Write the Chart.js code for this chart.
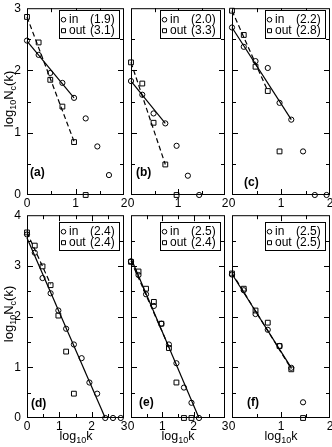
<!DOCTYPE html>
<html>
<head>
<meta charset="utf-8">
<script src="https://cdn.jsdelivr.net/npm/chart.js@4.4.1/dist/chart.umd.min.js"></script>
<style>
  body { margin: 0; background: #fff; width: 332px; height: 447px; position: relative; overflow: hidden;
         font-family: "Liberation Sans", Arial, sans-serif; color: #000; }
  canvas { position: absolute; }
  .ttl { position: absolute; white-space: nowrap; font-size: 13px; line-height: 13px; }
  .ytitle { transform: translate(-50%, -50%) rotate(-90deg); }
  .xtitle { transform: translateX(-50%); font-size: 12.5px; }
  sub { font-size: 9px; vertical-align: -3px; line-height: 0; }
</style>
</head>
<body>
<canvas id="pa"></canvas><canvas id="pb"></canvas><canvas id="pc"></canvas>
<canvas id="pd"></canvas><canvas id="pe"></canvas><canvas id="pf"></canvas>
<div class="ttl ytitle" style="left:8px;top:99px">log<sub>10</sub>N<sub>c</sub>(k)</div>
<div class="ttl ytitle" style="left:8px;top:314px">log<sub>10</sub>N<sub>c</sub>(k)</div>
<div class="ttl xtitle" style="left:76px;top:430px">log<sub>10</sub>k</div>
<div class="ttl xtitle" style="left:178px;top:430px">log<sub>10</sub>k</div>
<div class="ttl xtitle" style="left:281px;top:430px">log<sub>10</sub>k</div>
<script>
// log10 k bins (x positions shared by all panels)
var logK = [0, 0.24, 0.48, 0.73, 0.97, 1.21, 1.45, 1.69, 1.93, 2.17, 2.42, 2.66, 2.9];

// log10 Nc(k) : in-degree (circles) and out-degree (squares)
var inA  = [2.48, 2.25, 1.96, 1.80, 1.56, 1.23, 0.78, 0.32];
var outA = [2.86, 2.45, 1.85, 1.42, 0.85, 0];
var inB  = [1.83, 1.61, 1.31, 1.15, 0.79, 0.31, 0];
var outB = [2.13, 1.79, 1.16, 0.49, 0];
var inC  = [2.69, 2.38, 2.15, 2.04, 1.48, 1.21, 0.70, 0, 0];
var outC = [2.96, 2.57, 2.06, 1.67, 0.70];
var inD  = [3.62, 3.26, 2.76, 2.46, 2.12, 1.76, 1.45, 1.18, 0.70, 0.48, 0, 0, 0];
var outD = [3.66, 3.40, 2.99, 2.62, 2.02, 1.31, 0.48];
var inE  = [3.09, 2.82, 2.44, 2.21, 1.86, 1.45, 1.08, 0.60, 0.30, 0];
var outE = [3.08, 2.89, 2.55, 2.29, 1.86, 1.38, 0.70, 0, 0];
var inF  = [2.83, 2.52, 2.05, 1.74, 1.42, 0.99, 0.31];
var outF = [2.85, 2.55, 2.12, 1.88, 1.42, 0.96, 0];

// power-law fits: [[x0, y0], [x1, y1]]
var fitInA = [[0, 2.47], [0.97, 1.56]], fitOutA = [[0, 2.86], [0.97, 0.86]];
var fitInB = [[0, 1.83], [0.73, 1.15]], fitOutB = [[0, 2.13], [0.73, 0.49]];
var fitInC = [[0, 2.69], [1.21, 1.21]], fitOutC = [[0, 2.96], [0.73, 1.67]];
var fitInD = [[0, 3.55], [2.42, 0]],    fitOutD = [[0, 3.66], [0.73, 2.64]];
var fitInE = [[0, 3.15], [2.17, 0]],    fitOutE = [[0, 3.10], [1.21, 1.40]];
var fitInF = [[0, 2.84], [1.21, 0.99]], fitOutF = [[0, 2.86], [1.21, 0.97]];

// exponents shown in the legends
var expIn  = ['1.9', '2.0', '2.2', '2.4', '2.5', '2.5'];
var expOut = ['3.1', '3.3', '2.8', '2.4', '2.4', '2.5'];
var tags = ['(a)', '(b)', '(c)', '(d)', '(e)', '(f)'];

var FONT = '"Liberation Sans", Arial, sans-serif';
var padL = 26, padR = 8, padT = 8, padB = 16;

// plot rectangles in page pixels + axis ranges
var panels = [
  {id: 'pa', L: 27,  T: 3,   R: 124, B: 195, xmax: 2, ymax: 3, ylab: true,  tag: [3, 22],  leg: 2},
  {id: 'pb', L: 131, T: 3,   R: 225, B: 195, xmax: 2, ymax: 3, ylab: false, tag: [5, 22],  leg: 2},
  {id: 'pc', L: 232, T: 3,   R: 330, B: 195, xmax: 2, ymax: 3, ylab: false, tag: [12, 12], leg: 2},
  {id: 'pd', L: 27,  T: 210, R: 124, B: 418, xmax: 3, ymax: 4, ylab: true,  tag: [4, 14],  leg: 7},
  {id: 'pe', L: 131, T: 210, R: 225, B: 418, xmax: 3, ymax: 4, ylab: false, tag: [8, 15],  leg: 7},
  {id: 'pf', L: 232, T: 210, R: 330, B: 418, xmax: 2, ymax: 4, ylab: false, tag: [15, 15], leg: 7}
];

function pts(ys) {
  return ys.map(function(y, i) { return {x: logK[i], y: y}; });
}
function seg(f) {
  return f.map(function(p) { return {x: p[0], y: p[1]}; });
}

var framePlugin = {
  id: 'frame',
  afterDraw: function(chart) {
    var ctx = chart.ctx, a = chart.chartArea, o = chart.options.plugins.frame;
    var xs = chart.scales.x, ys = chart.scales.y;
    ctx.save();
    ctx.strokeStyle = '#000';
    ctx.lineWidth = 1;
    ctx.strokeRect(a.left + 0.5, a.top + 0.5, a.right - a.left - 1, a.bottom - a.top - 1);
    // inward ticks on all four sides
    ctx.beginPath();
    xs.ticks.forEach(function(t) {
      if (t.value <= xs.min || t.value >= xs.max) return;
      var len = Number.isInteger(t.value) ? 6 : 4;
      var px = Math.round(xs.getPixelForValue(t.value)) + 0.5;
      ctx.moveTo(px, a.bottom); ctx.lineTo(px, a.bottom - len);
      ctx.moveTo(px, a.top); ctx.lineTo(px, a.top + len);
    });
    ys.ticks.forEach(function(t) {
      if (t.value <= ys.min || t.value >= ys.max) return;
      var len = Number.isInteger(t.value) ? 6 : 4;
      var py = Math.round(ys.getPixelForValue(t.value)) + 0.5;
      ctx.moveTo(a.left, py); ctx.lineTo(a.left + len, py);
      ctx.moveTo(a.right, py); ctx.lineTo(a.right - len, py);
    });
    ctx.stroke();

    // legend box
    var bw = 60, bh = 28;
    var bx = a.right - 5 - bw, by = a.top + o.leg;
    ctx.fillStyle = '#fff';
    ctx.fillRect(bx, by, bw, bh);
    ctx.strokeRect(Math.round(bx) + 0.5, Math.round(by) + 0.5, bw, bh);
    ctx.fillStyle = '#000';
    ctx.font = '12px ' + FONT;
    ctx.textBaseline = 'middle';
    var rows = [
      {sym: 'circle', name: 'in', exp: o.expIn, y: by + 9.5},
      {sym: 'rect', name: 'out', exp: o.expOut, y: by + 20.5}
    ];
    rows.forEach(function(r) {
      ctx.beginPath();
      if (r.sym === 'circle') ctx.arc(bx + 4.5, r.y, 2.3, 0, Math.PI * 2);
      else ctx.rect(bx + 2.5, r.y - 2, 4, 4);
      ctx.stroke();
      ctx.fillText(r.name, bx + 10, r.y);
      ctx.fillText('(' + r.exp + ')', bx + 31, r.y);
    });

    // panel tag
    ctx.font = 'bold 12px ' + FONT;
    ctx.fillText(o.tag, a.left + o.tagPos[0], a.bottom - o.tagPos[1]);
    ctx.restore();
  }
};

function makeChart(p, k, inY, outY, fitIn, fitOut) {
  var cv = document.getElementById(p.id);
  cv.width = (p.R - p.L) + padL + padR;
  cv.height = (p.B - p.T) + padT + padB;
  cv.style.left = (p.L - padL) + 'px';
  cv.style.top = (p.T - padT) + 'px';

  var mark = {borderColor: '#000', backgroundColor: 'transparent', borderWidth: 1, showLine: false, clip: false};
  var line = {borderColor: '#000', borderWidth: 1.2, pointRadius: 0, showLine: true, fill: false, clip: false};

  new Chart(cv, {
    type: 'scatter',
    data: {
      datasets: [
        Object.assign({label: 'in fit', data: seg(fitIn)}, line),
        Object.assign({label: 'out fit', data: seg(fitOut), borderDash: [5, 3]}, line),
        Object.assign({label: 'in', data: pts(inY), pointStyle: 'circle', pointRadius: 2.6}, mark),
        Object.assign({label: 'out', data: pts(outY), pointStyle: 'rect', pointRadius: 3.4}, mark)
      ]
    },
    options: {
      responsive: false,
      animation: false,
      events: [],
      layout: {padding: {left: 0, right: padR, top: padT, bottom: 0}},
      plugins: {
        legend: {display: false},
        tooltip: {enabled: false},
        frame: {expIn: expIn[k], expOut: expOut[k], tag: tags[k], tagPos: p.tag, leg: p.leg}
      },
      scales: {
        x: {
          type: 'linear', min: 0, max: p.xmax,
          grid: {display: false, drawTicks: false},
          border: {display: false},
          afterFit: function(s) { s.height = padB; },
          ticks: {
            stepSize: 0.5, autoSkip: false, maxRotation: 0, padding: 1,
            color: '#000', font: {family: FONT, size: 12},
            callback: function(v) { return Number.isInteger(v) ? String(v) : ''; }
          }
        },
        y: {
          type: 'linear', min: 0, max: p.ymax,
          grid: {display: false, drawTicks: false},
          border: {display: false},
          afterFit: function(s) { s.width = padL; },
          ticks: {
            stepSize: 0.5, autoSkip: false, padding: 6,
            color: '#000', font: {family: FONT, size: 12},
            callback: function(v) { return (p.ylab && Number.isInteger(v)) ? String(v) : ''; }
          }
        }
      }
    },
    plugins: [framePlugin]
  });
}

makeChart(panels[0], 0, inA, outA, fitInA, fitOutA);
makeChart(panels[1], 1, inB, outB, fitInB, fitOutB);
makeChart(panels[2], 2, inC, outC, fitInC, fitOutC);
makeChart(panels[3], 3, inD, outD, fitInD, fitOutD);
makeChart(panels[4], 4, inE, outE, fitInE, fitOutE);
makeChart(panels[5], 5, inF, outF, fitInF, fitOutF);
</script>
</body>
</html>
